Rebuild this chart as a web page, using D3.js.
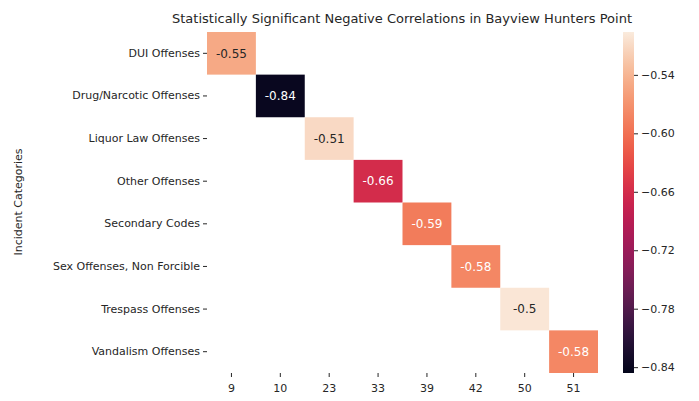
<!DOCTYPE html><html><head><script src="https://cdn.jsdelivr.net/npm/d3@7"></script>
<style>body{margin:0;background:#fff}text{font-family:"DejaVu Sans",sans-serif}</style></head><body>
<svg id="c" width="699" height="401"></svg>
<script>
const rows=["DUI Offenses","Drug/Narcotic Offenses","Liquor Law Offenses","Other Offenses","Secondary Codes","Sex Offenses, Non Forcible","Trespass Offenses","Vandalism Offenses"];
const cols=["9","10","23","33","39","42","50","51"];
const values=[-0.55,-0.84,-0.51,-0.66,-0.59,-0.58,-0.5,-0.58];
const cbTicks=[-0.54,-0.60,-0.66,-0.72,-0.78,-0.84];
const svg=d3.select("#c");
const rocket=d3.interpolateRgbBasis(["#03051A","#2F1641","#701F57","#A11A5B","#CB1B4F","#ED503E","#F4845E","#F6B48E","#FAEBDD"]);
const vmin=-0.846,vmax=-0.496;
const color=v=>rocket((v-vmin)/(vmax-vmin));
const x=d3.scaleBand().domain(cols).range([207,598]);
const y=d3.scaleBand().domain(rows).range([32,373]);
const g=svg.append("g");
values.forEach((v,i)=>{
  const c=color(v);
  g.append("rect").attr("x",x(cols[i])).attr("y",y(rows[i])).attr("width",x.bandwidth()).attr("height",y.bandwidth()).attr("fill",c);
  const rgb=d3.rgb(c);const lum=[rgb.r,rgb.g,rgb.b].map(u=>{u/=255;return u<=0.03928?u/12.92:Math.pow((u+0.055)/1.055,2.4)});
  const L=0.2126*lum[0]+0.7152*lum[1]+0.0722*lum[2];
  g.append("text").attr("x",x(cols[i])+x.bandwidth()/2).attr("y",y(rows[i])+y.bandwidth()/2).attr("dy","0.35em").attr("text-anchor","middle").attr("font-size",12).attr("fill",L>0.408?"#262626":"#fff").text(v);
});
const xa=svg.append("g").attr("transform","translate(0,373)").call(d3.axisBottom(x).tickSize(4));
const ya=svg.append("g").attr("transform","translate(207,0)").call(d3.axisLeft(y).tickSize(4));
[xa,ya].forEach(a=>{a.select(".domain").remove();a.selectAll("text").attr("font-size",11).attr("fill","#262626").style("font-family","DejaVu Sans");a.selectAll("line").attr("stroke","#262626");});
xa.selectAll("text").attr("dy","1.1em");
svg.append("text").attr("transform","translate(22,202) rotate(-90)").attr("text-anchor","middle").attr("font-size",11).attr("fill","#262626").text("Incident Categories");
svg.append("text").attr("x",402).attr("y",23).attr("text-anchor","middle").attr("font-size",13).attr("fill","#262626").text("Statistically Significant Negative Correlations in Bayview Hunters Point");
// colorbar
const cy=d3.scaleLinear().domain([vmin,vmax]).range([373,32]);
const defs=svg.append("defs");const lg=defs.append("linearGradient").attr("id","gr").attr("x1",0).attr("y1",1).attr("x2",0).attr("y2",0);
d3.range(0,1.01,0.05).forEach(t=>lg.append("stop").attr("offset",t).attr("stop-color",rocket(t)));
svg.append("rect").attr("x",623).attr("y",32).attr("width",11).attr("height",341).attr("fill","url(#gr)");
const ca=svg.append("g").attr("transform","translate(634,0)").call(d3.axisRight(cy).tickValues(cbTicks).tickFormat(d=>d.toFixed(2).replace("-","\u2212")).tickSize(4));
ca.select(".domain").remove();ca.selectAll("text").attr("font-size",11).attr("fill","#262626").style("font-family","DejaVu Sans");ca.selectAll("line").attr("stroke","#262626");
</script></body></html>
